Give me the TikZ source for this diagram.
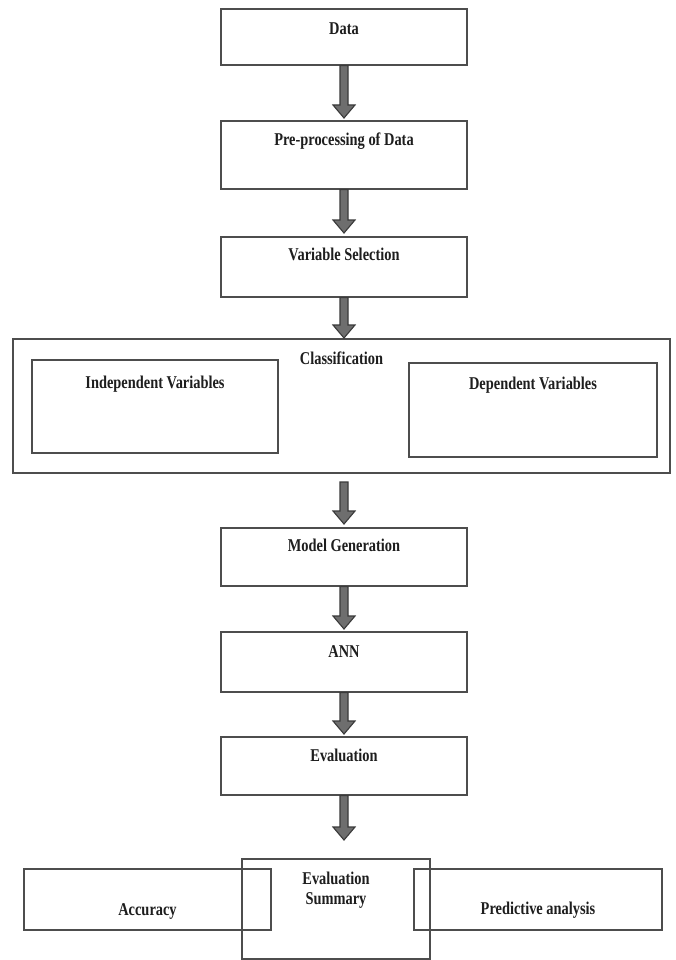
\documentclass[tikz,border=0pt]{standalone}
\usepackage{fontspec}
\setmainfont{Liberation Serif}[FakeStretch=0.8]
\usetikzlibrary{calc}
\definecolor{lineC}{HTML}{4D4D4D}
\definecolor{textC}{HTML}{1E1E1E}
\definecolor{arrFill}{HTML}{6E6E6E}
\definecolor{arrDraw}{HTML}{3A3A3A}
\newcommand\fatarrow[4]{%
  \draw[fatarr] ($(#1)+(-4,#3)$) -- ($(#2)+(-4,-#4-13)$) -- ($(#2)+(-11,-#4-13)$)
    -- ($(#2)+(0,-#4)$) -- ($(#2)+(11,-#4-13)$) -- ($(#2)+(4,-#4-13)$)
    -- ($(#1)+(4,#3)$) -- cycle;}
\tikzset{
  box/.style={draw=lineC, line width=1.6pt, inner xsep=0pt, inner ysep=0pt,
    anchor=north, text=textC, align=center,
    font=\bfseries\fontsize{18}{20}\selectfont},
  wbox/.style={box, minimum width=#1},
  tb/.style 2 args={text height=#1, text depth=#2},
  fatarr/.style={fill=arrFill, draw=arrDraw, line width=1.1pt, line join=miter}
}
\begin{document}
\begin{tikzpicture}[x=1pt,y=-1pt]
\fill[white] (0,0) rectangle (676,960);
\useasboundingbox (0,0) rectangle (676,960);

\node[wbox=246pt, tb={26pt}{30pt}] (data) at (344,8) {Data};
\node[wbox=246pt, tb={25pt}{43pt}] (pre) at (344,120) {Pre-processing of Data};
\node[wbox=246pt, tb={24pt}{36pt}] (varsel) at (344,236) {Variable Selection};
\node[wbox=657pt, tb={25pt}{109pt}, line width=2pt] (cls) at (341.5,338) {Classification};
\node[wbox=246pt, tb={29pt}{64pt}] (indep) at (155,359) {Independent Variables};
\node[wbox=248pt, tb={27pt}{67pt}] (dep) at (533,362) {Dependent Variables};
\node[wbox=246pt, tb={24pt}{34pt}] (mg) at (344,527) {Model Generation};
\node[wbox=246pt, tb={26pt}{34pt}] (ann) at (344,631) {ANN};
\node[wbox=246pt, tb={25pt}{33pt}] (eval) at (344,736) {Evaluation};
\node[wbox=188pt, tb={46pt}{54pt}] (esum) at (336,858) {Evaluation\\Summary};
\node[wbox=247pt, tb={47pt}{14pt}] (acc) at (147.5,868) {Accuracy};
\node[wbox=248pt, tb={46pt}{15pt}] (pred) at (538,868) {Predictive analysis};

\coordinate (cin) at (varsel.south |- cls.north);
\coordinate (cout) at (mg.north |- cls.south);
\coordinate (sumin) at (eval.south |- esum.north);

\fatarrow{data.south}{pre.north}{0}{2}
\fatarrow{pre.south}{varsel.north}{0}{3}
\fatarrow{varsel.south}{cin}{0}{0}
\fatarrow{cout}{mg.north}{8}{3}
\fatarrow{mg.south}{ann.north}{0}{2}
\fatarrow{ann.south}{eval.north}{0}{2}
\fatarrow{eval.south}{sumin}{0}{18}
\end{tikzpicture}
\end{document}
